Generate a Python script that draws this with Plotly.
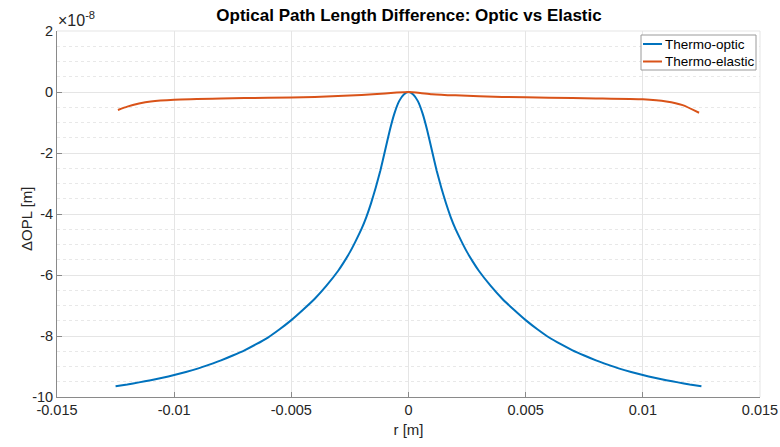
import plotly.graph_objects as go

# Thermo-optic OPL difference (units of 1e-8 m) vs radius (m)
r_optic = [-0.0125, -0.012, -0.0115, -0.011, -0.0105, -0.010, -0.0095, -0.009,
           -0.0085, -0.008, -0.0075, -0.007, -0.0065, -0.006, -0.0055, -0.005,
           -0.0045, -0.004, -0.0035, -0.003, -0.00275, -0.0025, -0.00225, -0.002,
           -0.0018, -0.0016, -0.0014, -0.0012, -0.001, -0.0008, -0.0006, -0.0004,
           -0.0002, 0.0,
           0.0002, 0.0004, 0.0006, 0.0008, 0.001, 0.0012, 0.0014, 0.0016, 0.0018,
           0.002, 0.00225, 0.0025, 0.00275, 0.003, 0.0035, 0.004, 0.0045, 0.005,
           0.0055, 0.006, 0.0065, 0.007, 0.0075, 0.008, 0.0085, 0.009, 0.0095,
           0.010, 0.0105, 0.011, 0.0115, 0.012, 0.0125]
opl_optic = [-9.65, -9.59, -9.52, -9.45, -9.37, -9.28, -9.18, -9.07,
             -8.94, -8.80, -8.64, -8.47, -8.27, -8.05, -7.78, -7.48,
             -7.14, -6.78, -6.35, -5.86, -5.57, -5.25, -4.88, -4.48,
             -4.10, -3.65, -3.14, -2.57, -1.92, -1.26, -0.70, -0.30,
             -0.08, 0.0,
             -0.08, -0.30, -0.70, -1.26, -1.92, -2.57, -3.14, -3.65, -4.10,
             -4.48, -4.88, -5.25, -5.57, -5.86, -6.35, -6.78, -7.14, -7.48,
             -7.78, -8.05, -8.27, -8.47, -8.64, -8.80, -8.94, -9.07, -9.18,
             -9.28, -9.37, -9.45, -9.52, -9.59, -9.65]

# Thermo-elastic OPL difference (units of 1e-8 m) vs radius (m)
r_elastic = [-0.0124, -0.012, -0.0115, -0.011, -0.010, -0.008, -0.006, -0.004,
             -0.002, -0.001, -0.0005, 0.0, 0.0005, 0.001, 0.002, 0.004, 0.006,
             0.008, 0.010, 0.011, 0.0117, 0.0124]
opl_elastic = [-0.59, -0.48, -0.38, -0.31, -0.25, -0.21, -0.19, -0.16,
               -0.10, -0.05, -0.02, 0.0, -0.03, -0.07, -0.11, -0.16, -0.19,
               -0.21, -0.24, -0.31, -0.43, -0.68]

series_names = ["Thermo-optic", "Thermo-elastic"]
series_colors = ["#0072BD", "#D95319"]

x_ticks = [-0.015, -0.01, -0.005, 0, 0.005, 0.01, 0.015]
x_tick_text = ["-0.015", "-0.01", "-0.005", "0", "0.005", "0.01", "0.015"]
y_ticks = [2, 0, -2, -4, -6, -8, -10]
y_tick_text = ["2", "0", "-2", "-4", "-6", "-8", "-10"]

SCALE = 1e-8
W, H = 780, 447
ML, MR, MT, MB = 57, 20, 31, 50
FONT = "Liberation Sans, Arial, Helvetica, sans-serif"
TXT = "#262626"
AXIS = "#8a8a8a"
GRID = "#e5e5e5"


def px_x(px):
    return (px - ML) / (W - ML - MR)


def px_y(py):
    return 1 - (py - MT) / (H - MT - MB)


fig = go.Figure()
for rr, vv, name, col in [(r_optic, opl_optic, series_names[0], series_colors[0]),
                          (r_elastic, opl_elastic, series_names[1], series_colors[1])]:
    fig.add_trace(go.Scatter(
        x=rr, y=[v * SCALE for v in vv], mode="lines", name=name,
        line=dict(color=col, width=2, shape="spline", smoothing=0.5),
        showlegend=False))

fig.update_layout(
    width=W, height=H,
    margin=dict(l=ML, r=MR, t=MT, b=MB, autoexpand=False),
    paper_bgcolor="white", plot_bgcolor="white",
    font=dict(family=FONT, size=14, color=TXT),
    title=dict(text="<b>Optical Path Length Difference: Optic vs Elastic</b>",
               x=409 / W, xanchor="center", y=1 - 15 / H, yanchor="middle",
               font=dict(family=FONT, size=17, color="black")),
)

fig.update_xaxes(
    automargin=False,
    range=[-0.015, 0.015], tickvals=x_ticks, ticktext=x_tick_text,
    showgrid=True, gridcolor=GRID, gridwidth=1, zeroline=False,
    showline=True, linecolor=AXIS, linewidth=1,
    ticks="inside", ticklen=5, tickcolor=AXIS,
    tickfont=dict(size=14.5, color=TXT),
    title=dict(text="r [m]", font=dict(size=15, color=TXT), standoff=7),
)
fig.update_yaxes(
    automargin=False,
    range=[-10 * SCALE, 2 * SCALE],
    tickvals=[v * SCALE for v in y_ticks], ticktext=y_tick_text,
    showgrid=True, gridcolor=GRID, gridwidth=1, zeroline=False,
    showline=True, linecolor=AXIS, linewidth=1,
    ticks="inside", ticklen=5, tickcolor=AXIS,
    tickfont=dict(size=14.5, color=TXT),
    minor=dict(dtick=0.5 * SCALE, tick0=0, showgrid=True, gridcolor="#e8e8e8",
               griddash="dot", ticks=""),
)

# y axis title, rotated
fig.add_annotation(xref="paper", yref="paper", x=px_x(26), y=px_y(219),
                   xanchor="center", yanchor="middle", textangle=-90, showarrow=False,
                   text="ΔOPL [m]", font=dict(family=FONT, size=15, color=TXT))

# light frame on the top and right edges of the axes box
fig.add_shape(type="line", xref="paper", yref="paper", x0=0, x1=1, y0=1, y1=1,
              line=dict(color=GRID, width=1))
fig.add_shape(type="line", xref="paper", yref="paper", x0=1, x1=1, y0=0, y1=1,
              line=dict(color=GRID, width=1))

# exponent label of the y axis
fig.add_annotation(xref="paper", yref="paper", x=0, y=1, xanchor="left", yanchor="bottom",
                   xshift=-1, yshift=0, showarrow=False,
                   text="×10<sup>-8</sup>", font=dict(family=FONT, size=16, color=TXT))

# boxed legend in the upper right corner
box_l, box_r, box_t, box_b = 641, 756, 35, 70
fig.add_shape(type="rect", xref="paper", yref="paper",
              x0=px_x(box_l), x1=px_x(box_r), y0=px_y(box_b), y1=px_y(box_t),
              line=dict(color="#9a9a9a", width=1), fillcolor="white", layer="above")
for i, (name, col) in enumerate(zip(series_names, series_colors)):
    row_y = 44 + i * 17.5
    fig.add_shape(type="line", xref="paper", yref="paper",
                  x0=px_x(643), x1=px_x(662), y0=px_y(row_y), y1=px_y(row_y),
                  line=dict(color=col, width=2), layer="above")
    fig.add_annotation(xref="paper", yref="paper", x=px_x(663), y=px_y(row_y),
                       xanchor="left", yanchor="middle", showarrow=False,
                       text=name, font=dict(family=FONT, size=13.5, color="black"))

fig.write_html("out.html")
